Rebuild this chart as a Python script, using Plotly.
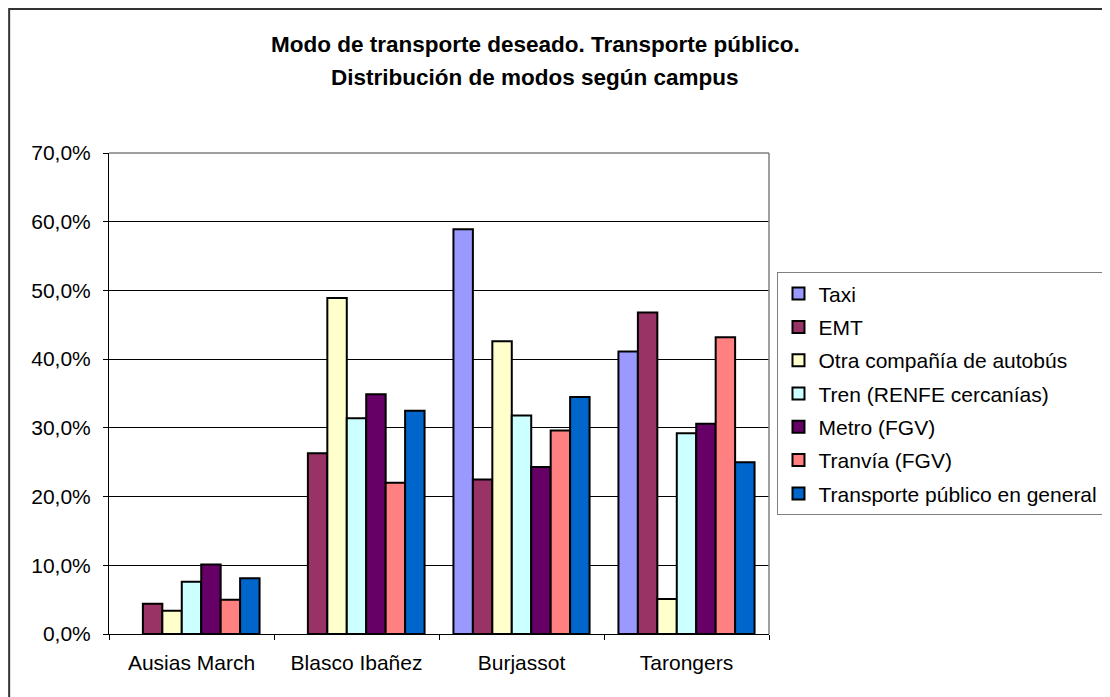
import plotly.graph_objects as go

campus = ["Ausias March", "Blasco Ibañez", "Burjassot", "Tarongers"]
series_names = ["Taxi", "EMT", "Otra compañía de autobús", "Tren (RENFE cercanías)",
                "Metro (FGV)", "Tranvía (FGV)", "Transporte público en general"]
taxi = [None, None, 0.589, 0.411]
emt = [0.044, 0.263, 0.225, 0.468]
otra = [0.034, 0.489, 0.426, 0.051]
tren = [0.076, 0.314, 0.318, 0.292]
metro = [0.101, 0.349, 0.243, 0.306]
tranvia = [0.050, 0.220, 0.296, 0.432]
tp_general = [0.081, 0.325, 0.345, 0.250]
colors = ["#9999FF", "#993366", "#FFFFCC", "#CCFFFF", "#660066", "#FF8080", "#0066CC"]
y_ticks = [0.0, 0.1, 0.2, 0.3, 0.4, 0.5, 0.6, 0.7]

values = [taxi, emt, otra, tren, metro, tranvia, tp_general]

FONT = "Arial, Liberation Sans, sans-serif"

fig = go.Figure()
for name, vals, col in zip(series_names, values, colors):
    fig.add_trace(go.Bar(
        x=campus, y=vals, name=name, legendgroup=name,
        marker=dict(color=col, line=dict(color="black", width=2)),
        hoverinfo="skip",
    ))

# page has an 8px body margin; work in screenshot pixels and convert
OFF = 8
L, R, T, B = 108.5 - OFF, 769.5 - OFF, 152.5 - OFF, 633.7 - OFF
W, H = 1110, 697
pw, ph = R - L, B - T

def px_x(px):
    return (px - OFF - L) / pw

def px_y(py):
    return (B - (py - OFF)) / ph

fig.update_layout(
    width=W, height=H,
    margin=dict(l=L, r=W - R, t=T, b=H - B, pad=0),
    paper_bgcolor="white", plot_bgcolor="white",
    font=dict(family=FONT, size=21, color="black"),
    separators=",.",
    barmode="group", bargap=0.175, bargroupgap=0,
    showlegend=True,
    legend=dict(
        x=px_x(778), y=px_y(272), xanchor="left", yanchor="top",
        bordercolor="#808080", borderwidth=1, bgcolor="white",
        font=dict(family=FONT, size=21, color="black"),
        traceorder="grouped", tracegroupgap=3, itemwidth=30,
    ),
    xaxis=dict(
        showline=True, linecolor="black", linewidth=1,
        ticks="outside", ticklen=5, tickcolor="black", tickson="boundaries",
        showgrid=False, ticklabelstandoff=10,
        tickfont=dict(family=FONT, size=21, color="black"),
    ),
    yaxis=dict(
        range=[0, 0.7], tickvals=y_ticks, tickformat=".1%",
        showline=True, linecolor="black", linewidth=1,
        ticks="outside", ticklen=5, tickcolor="black",
        showgrid=True, gridcolor="black", gridwidth=1,
        zeroline=False, ticklabelstandoff=8,
        tickfont=dict(family=FONT, size=21, color="black"),
    ),
    annotations=[
        dict(text="<b>Modo de transporte deseado. Transporte público.</b>",
             x=px_x(535.5), y=px_y(44), xref="paper", yref="paper",
             xanchor="center", yanchor="middle", showarrow=False,
             font=dict(family=FONT, size=22.5, color="black")),
        dict(text="<b>Distribución de modos según campus</b>",
             x=px_x(535.5), y=px_y(77), xref="paper", yref="paper",
             xanchor="center", yanchor="middle", showarrow=False,
             font=dict(family=FONT, size=22.5, color="black")),
    ],
    shapes=[
        # plot area top & right border (gray)
        dict(type="line", xref="paper", yref="paper", x0=0, x1=1, y0=1, y1=1,
             line=dict(color="#808080", width=1.5), layer="above"),
        dict(type="line", xref="paper", yref="paper", x0=1, x1=1, y0=0, y1=1,
             line=dict(color="#808080", width=1.5), layer="above"),
        # outer chart border (cropped at right/bottom)
        dict(type="rect", xref="paper", yref="paper",
             x0=px_x(8.5), x1=px_x(1140), y0=px_y(730), y1=px_y(8.5),
             line=dict(color="#333333", width=2), layer="above"),
    ],
)

fig.write_html("out.html")
